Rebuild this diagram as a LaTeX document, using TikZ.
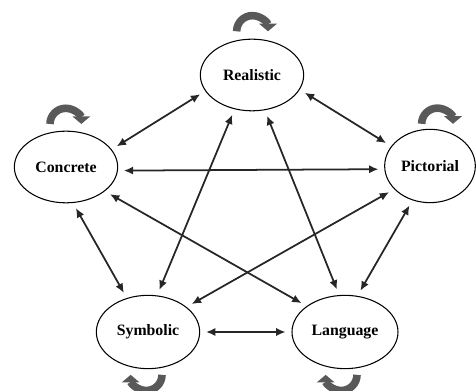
\documentclass[tikz,border=0pt]{standalone}
\usepackage{fontspec}
\setmainfont{Liberation Serif}
\usetikzlibrary{shapes}
\usetikzlibrary{arrows.meta}

\begin{document}
\begin{tikzpicture}[mode_node/.style={ellipse,draw,line width=0.9pt,minimum width=3.1cm,minimum height=2.15cm,inner sep=0pt,font=\fontsize{13.5}{15}\selectfont\bfseries}, link/.style={line width=1.5pt,draw=black!85,{Latex[length=8pt,width=7pt]}-{Latex[length=8pt,width=7pt]},shorten <=5pt,shorten >=5pt}, self_loop/.style={line width=6.5pt,draw=black!65,-{Triangle[length=6.5pt,width=15pt]}}]

	\useasboundingbox (0,0) rectangle (14.28,11.73);

	\node[mode_node] (r) at (7.56, 9.48) {Realistic};
	\node[mode_node] (c) at (1.98, 6.72) {Concrete};
	\node[mode_node,minimum width=2.72cm,minimum height=2.2cm] (p) at (12.90, 6.75) {Pictorial};
	\node[mode_node,minimum height=2.2cm] (s) at (4.44, 1.77) {Symbolic};
	\node[mode_node,minimum width=3.18cm,minimum height=2.2cm] (l) at (10.35, 1.77) {Language};

	\draw[link] (r.199) -- (c.21);
	\draw[link] (r.343) -- (p.153);
	\draw[link] (r.243) -- (s.76);
	\draw[link] (r.290) -- (l.99);
	\draw[link] (c.356) -- (p.184);
	\draw[link] (c.328) -- (l.146);
	\draw[link] (c.281) -- (s.122);
	\draw[link] (p.213) -- (s.33);
	\draw[link] (p.243) -- (l.71);
	\draw[link] (s.0) -- (l.180);

	\draw[self_loop] ([xshift=-0.46cm,yshift=0.22cm]r.north) arc[start angle=180,end angle=0,radius=0.47cm];
	\draw[self_loop] ([xshift=-0.48cm,yshift=0.2cm]c.north) arc[start angle=180,end angle=0,radius=0.47cm];
	\draw[self_loop] ([xshift=-0.25cm,yshift=0.15cm]p.north) arc[start angle=180,end angle=0,radius=0.47cm];
	\draw[self_loop] ([xshift=0.42cm,yshift=-0.17cm]s.south) arc[start angle=0,end angle=-180,radius=0.47cm];
	\draw[self_loop] ([xshift=0.36cm,yshift=-0.17cm]l.south) arc[start angle=0,end angle=-180,radius=0.47cm];
\end{tikzpicture}
\end{document}
